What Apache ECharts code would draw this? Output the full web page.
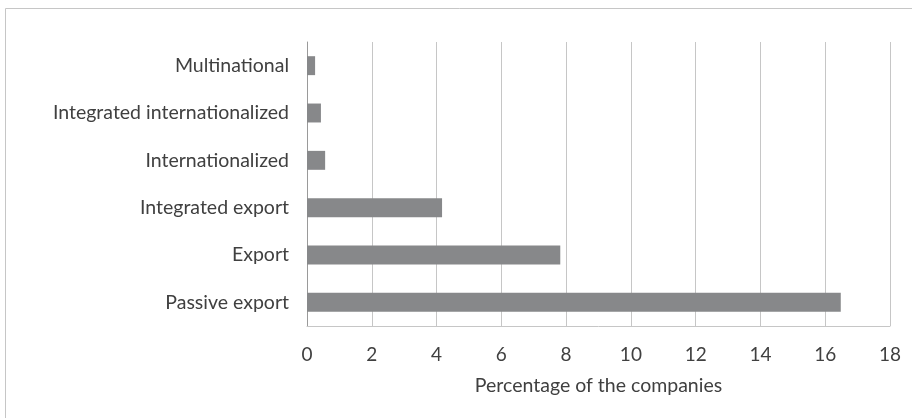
<!DOCTYPE html>
<html>
<head>
<meta charset="utf-8">
<script src="https://cdn.jsdelivr.net/npm/echarts@6/dist/echarts.min.js"></script>
<style>
  html, body { margin: 0; padding: 0; background: #fff; }
  #chart { width: 912px; height: 418px; }
</style>
</head>
<body>
<div id="chart"></div>
<script>
// categories listed bottom to top (as the y axis draws them)
let categories = ['Passive export', 'Export', 'Integrated export', 'Internationalized', 'Integrated internationalized', 'Multinational'];
let percentages = [16.48, 7.82, 4.17, 0.56, 0.43, 0.25];
let xTicks = [0, 2, 4, 6, 8, 10, 12, 14, 16, 18];

let chart = echarts.init(document.getElementById('chart'), null, { renderer: 'canvas' });
const fontFam = 'Lato, "Open Sans", sans-serif';

let option = {
  animation: false,
  backgroundColor: '#fff',
  graphic: [{
    type: 'rect',
    shape: { x: 5.5, y: 8.5, width: 910, height: 420 },
    style: { fill: 'none', stroke: '#c6c6c6', lineWidth: 1 },
    silent: true
  }],
  grid: {
    left: 307,
    right: 22,
    top: 42,
    bottom: 92
  },
  xAxis: {
    type: 'value',
    min: xTicks[0],
    max: xTicks[xTicks.length - 1],
    interval: 2,
    name: 'Percentage of the companies',
    nameLocation: 'middle',
    nameGap: 50,
    nameTextStyle: { fontFamily: fontFam, fontSize: 19.5, color: '#404040' },
    axisLine: { show: true, lineStyle: { color: '#c6c6c6', width: 1 } },
    axisTick: { show: false },
    axisLabel: { fontFamily: fontFam, fontSize: 19, color: '#404040', margin: 19 },
    splitLine: { show: true, lineStyle: { color: '#c6c6c6', width: 1 } }
  },
  yAxis: {
    type: 'category',
    data: categories,
    axisLine: { show: true, lineStyle: { color: '#9a9a9a', width: 1 } },
    axisTick: { show: false },
    axisLabel: { fontFamily: fontFam, fontSize: 19.5, color: '#404040', margin: 18 }
  },
  series: [{
    type: 'bar',
    data: percentages,
    barCategoryGap: '60%',
    itemStyle: { color: '#87888a' }
  }]
};
chart.setOption(option);
</script>
</body>
</html>
